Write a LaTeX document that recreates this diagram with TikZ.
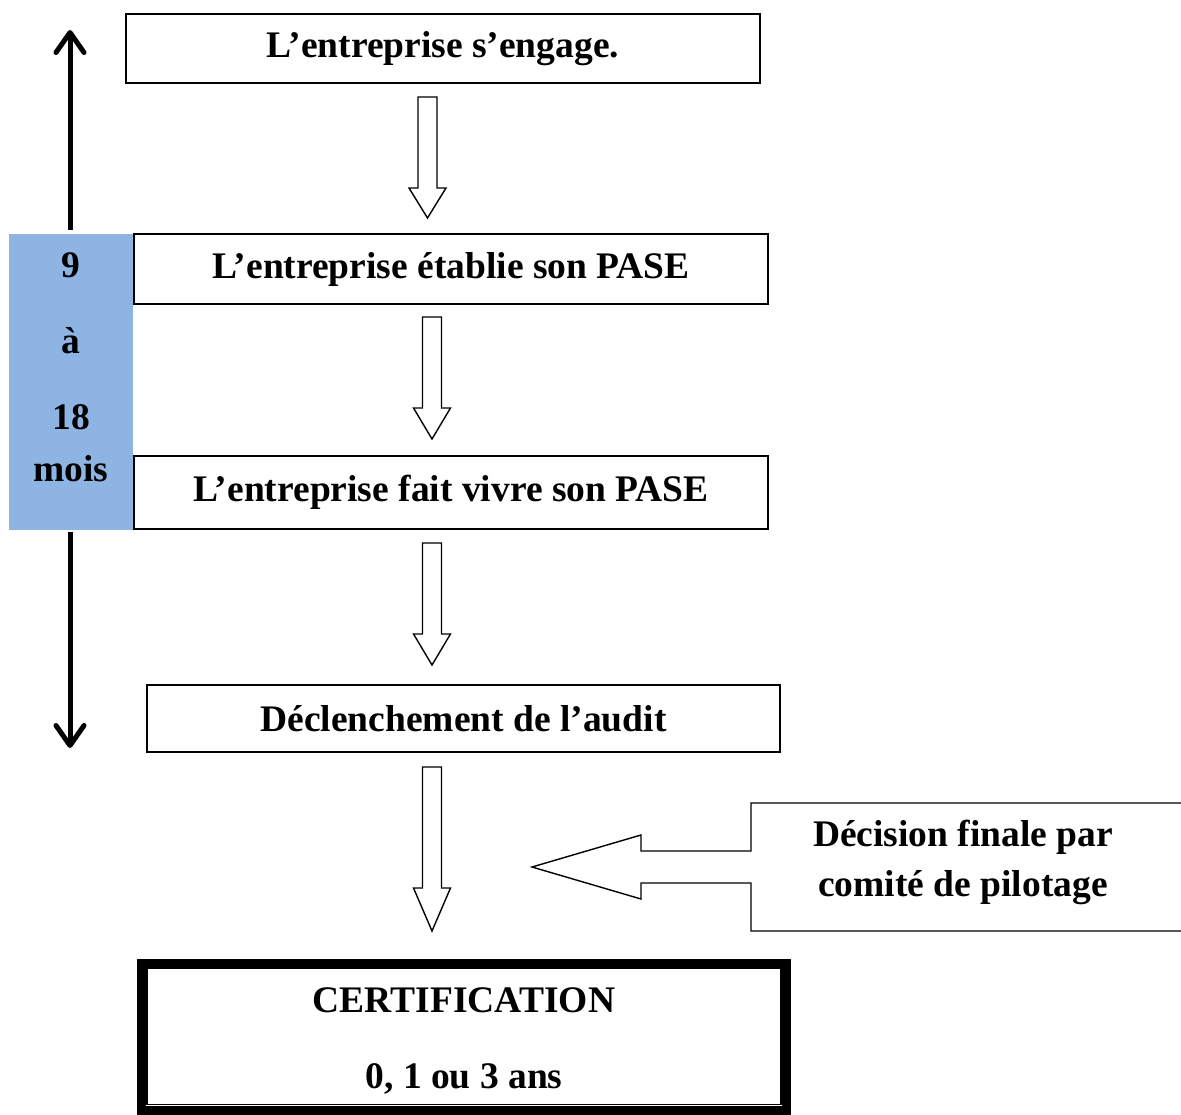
\documentclass[tikz,border=0pt]{standalone}
\usepackage{fontspec}
\setmainfont{Liberation Serif}
\usetikzlibrary{arrows.meta,calc}
\definecolor{spanblue}{HTML}{8EB4E3}

% hollow block arrow pointing down: centre x, top of shaft, base of head, tip
\newcommand\hollowdown[4]{%
  \draw[blockarrow] (#1-9.5,#2) -- (#1+9.5,#2) -- (#1+9.5,#3) -- (#1+18.5,#3)
    -- (#1,#4) -- (#1-18.5,#3) -- (#1-9.5,#3) -- cycle;}

\begin{document}
\begin{tikzpicture}[x=1pt,y=-1pt,
  every node/.style={font=\fontsize{37.5}{44}\selectfont\bfseries},
  stagebox/.style={draw,line width=1.8pt,inner sep=0pt},
  blockarrow/.style={draw,line width=1.4pt,line join=miter},
  timearrow/.style={line width=5pt,-{Straight Barb[length=20pt,width=28pt,round]}},
  plain/.style={inner sep=0pt}]
\useasboundingbox (0,0) rectangle (1181,1115);

% stages
\node[stagebox,minimum width=634pt,minimum height=69pt] (s1) at (443,48.5) {L’entreprise s’engage.};
\node[stagebox,minimum width=634pt,minimum height=70pt] (s2) at (451,269) {L’entreprise établie son PASE};
\node[stagebox,minimum width=634pt,minimum height=73pt] (s3) at (451,492.5) {L’entreprise fait vivre son PASE};
\node[stagebox,minimum width=633pt,minimum height=67pt] (s4) at (463.5,718.5) {Déclenchement de l’audit};

% hollow arrows between stages
\hollowdown{427.5}{97}{188}{218}
\hollowdown{432}{317}{408}{439}
\hollowdown{432}{543}{634}{665}
\hollowdown{432}{767}{888}{931}

% duration band
\node[fill=spanblue,minimum width=124pt,minimum height=296pt,inner sep=0pt] (span) at (71,382) {};
\node[plain] (d1) at (71,265) {9};
\node[plain] (d2) at (71,341) {à};
\node[plain] (d3) at (71,417) {18};
\node[plain] (d4) at (71,469) {mois};
\coordinate (uptip) at (70,30);
\coordinate (downtip) at (70,748);
\draw[timearrow] (70,230) -- (uptip);
\draw[timearrow] (70,532) -- (downtip);

% steering committee callout
\draw[line width=1.4pt,line join=miter] (1185,803) -- (751,803) -- (751,851) -- (641,851) -- (641,835)
  -- (532,867) -- (641,899) -- (641,883) -- (751,883) -- (751,931) -- (1185,931);
\node[plain,align=center,font=\fontsize{37.5}{50}\selectfont\bfseries] (decision) at (963,862)
  {Décision finale par\\comité de pilotage};

% certification: thick-thin frame
\node[draw,line width=9pt,minimum width=645pt,minimum height=147pt,inner sep=0pt] (cert) at (464,1036.5) {};
\draw[line width=1.5pt] ($(cert.north west)+(10,10)$) rectangle ($(cert.south east)+(-10,-10)$);
\node[plain] (c1) at (464,1000) {CERTIFICATION};
\node[plain] (c2) at (464,1079) {0, 1 ou 3 ans};
\end{tikzpicture}
\end{document}
